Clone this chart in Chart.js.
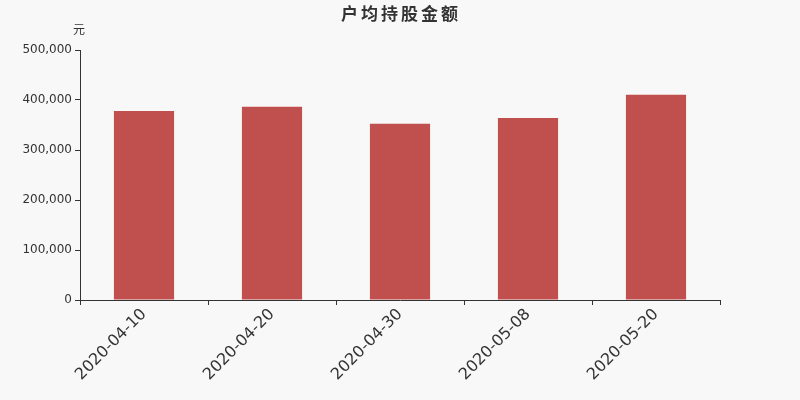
<!DOCTYPE html>
<html>
<head>
<meta charset="utf-8">
<script src="https://cdn.jsdelivr.net/npm/chart.js@4"></script>
<style>
  body { margin: 0; background: #f8f8f8; }
  canvas { display: block; }
</style>
</head>
<body>
<canvas id="myChart" width="800" height="400"></canvas>
<script>
// data
const dates = ["2020-04-10", "2020-04-20", "2020-04-30", "2020-05-08", "2020-05-20"];
const amounts = [378000, 386500, 352500, 364000, 410500];
const title = "户均持股金额";
const unit = "元";

const FONT = "'DejaVu Sans', 'Noto Sans CJK SC', sans-serif";

const decor = {
  id: "decor",
  beforeDraw(chart) {
    const c = chart.ctx;
    c.save();
    c.fillStyle = "#f8f8f8";
    c.fillRect(0, 0, chart.width, chart.height);
    c.restore();
  },
  afterDraw(chart) {
    const c = chart.ctx;
    c.save();
    c.fillStyle = "#333";
    c.textAlign = "center";
    c.textBaseline = "middle";
    c.font = "bold 17px 'Noto Sans CJK SC', sans-serif";
    c.letterSpacing = "3px";
    c.fillText(title, 401, 14);
    c.letterSpacing = "0px";
    c.font = "12px 'Noto Sans CJK SC', sans-serif";
    c.fillText(unit, 79, 29);
    c.restore();
  },
};

const ctx = document.getElementById("myChart").getContext("2d");

const aChart = new Chart(ctx, {
  type: "bar",
  data: {
    labels: dates,
    datasets: [
      {
        data: amounts,
        backgroundColor: "#c0504d",
        barPercentage: 0.47,
        categoryPercentage: 1,
      },
    ],
  },
  options: {
    responsive: false,
    animation: false,
    layout: { padding: { top: 50, right: 80, left: 0, bottom: 0 } },
    plugins: {
      legend: { display: false },
      tooltip: { enabled: false },
    },
    scales: {
      x: {
        offset: true,
        grid: { offset: true, drawOnChartArea: false, tickLength: 5, color: "#333" },
        border: { color: "#333" },
        ticks: {
          color: "#333",
          font: { family: FONT, size: 16 },
          minRotation: 45,
          maxRotation: 45,
          padding: 0,
        },
        afterFit: (s) => { s.height = 100; },
      },
      y: {
        min: 0,
        max: 500000,
        grid: { drawOnChartArea: false, tickLength: 5, color: "#333" },
        border: { color: "#333" },
        ticks: {
          stepSize: 100000,
          color: "#333",
          font: { family: FONT, size: 12 },
          padding: 3,
          callback: (v) => v.toLocaleString("en-US"),
        },
        afterFit: (s) => { s.width = 80; },
      },
    },
  },
  plugins: [decor],
});
</script>
</body>
</html>
